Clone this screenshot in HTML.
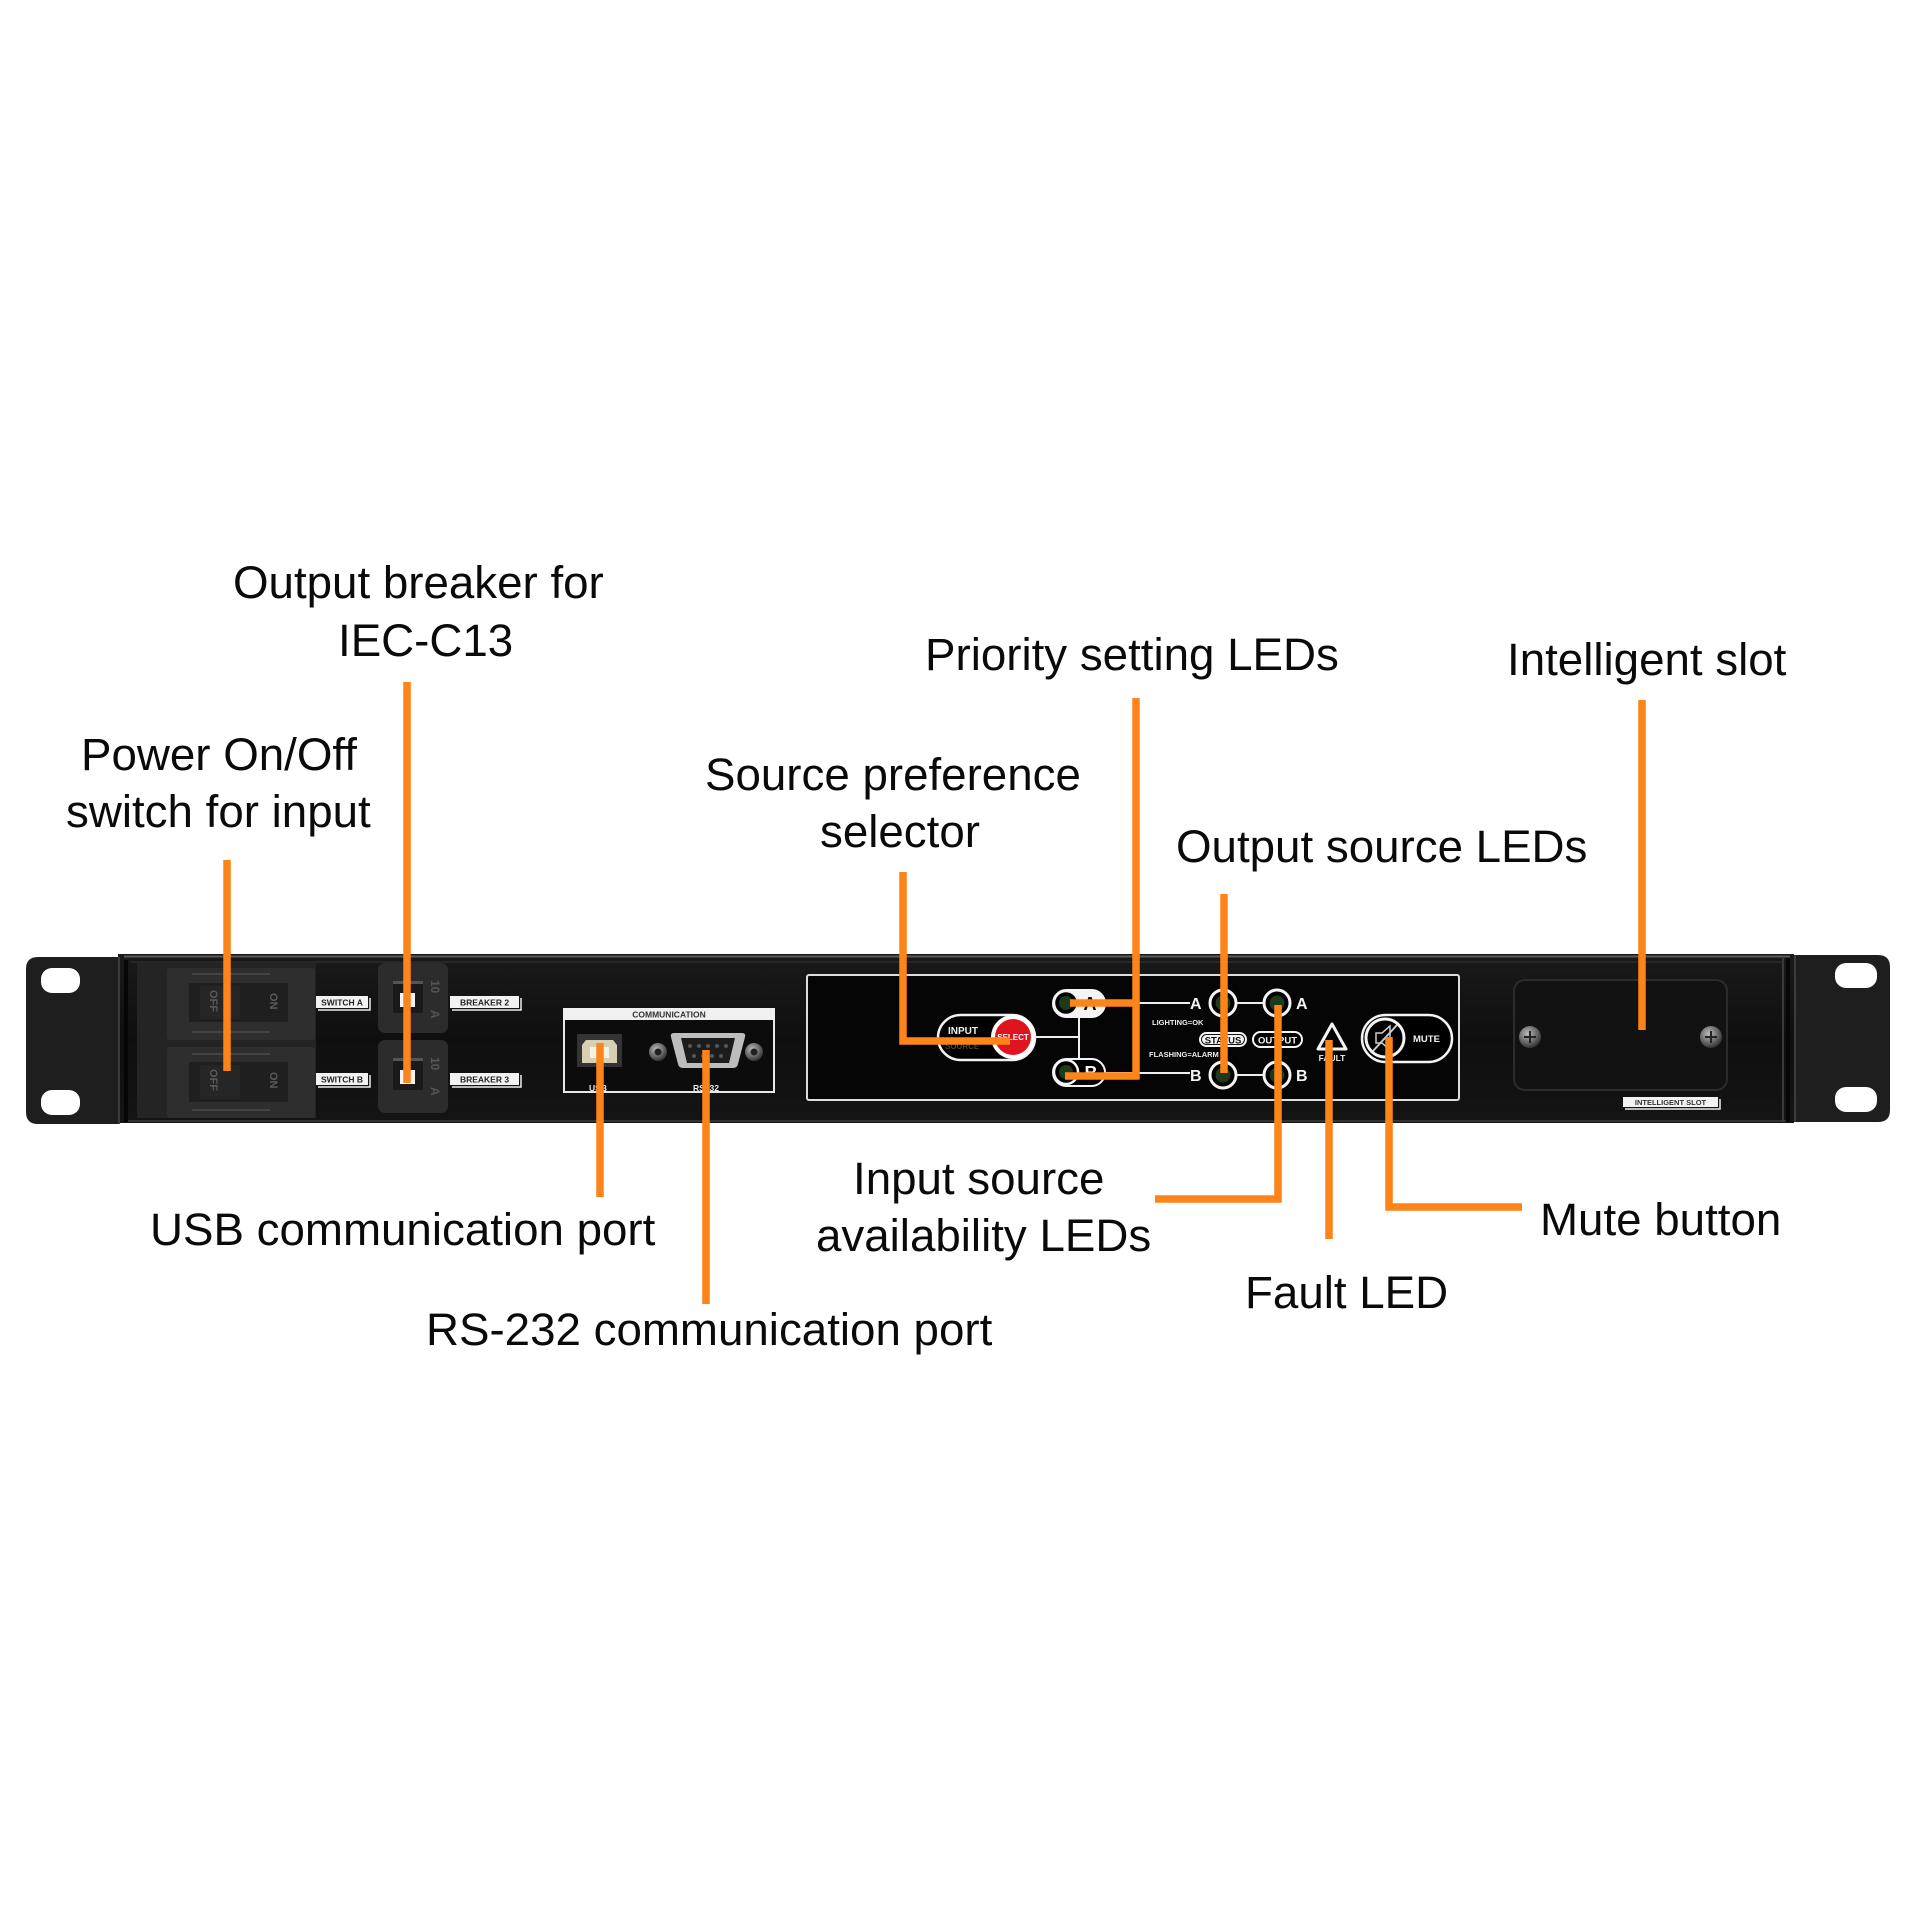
<!DOCTYPE html>
<html><head><meta charset="utf-8"><style>
html,body{margin:0;padding:0;background:#fff;}
svg{display:block}
.lb{font-family:"Liberation Sans",Arial,sans-serif;font-size:45.7px;fill:#0a0a0a;}
.sm{font-family:"Liberation Sans",Arial,sans-serif;font-weight:bold;}
</style></head><body>
<svg width="1920" height="1920" viewBox="0 0 1920 1920" xmlns="http://www.w3.org/2000/svg">
<defs>
<radialGradient id="scr" cx="40%" cy="35%" r="70%">
<stop offset="0" stop-color="#bbb"/><stop offset="0.6" stop-color="#666"/><stop offset="1" stop-color="#2a2a2a"/>
</radialGradient>
<linearGradient id="body" x1="0" y1="0" x2="0" y2="1">
<stop offset="0" stop-color="#1a1a1a"/><stop offset="0.5" stop-color="#0f0f0f"/><stop offset="1" stop-color="#141414"/>
</linearGradient>
</defs>
<rect width="1920" height="1920" fill="#fff"/>

<!-- body -->
<rect x="118" y="954" width="1676" height="169" fill="url(#body)"/>
<line x1="124" y1="956.5" x2="1790" y2="956.5" stroke="#5a5a5a" stroke-width="2"/>
<line x1="130" y1="962" x2="1784" y2="962" stroke="#2c2c2c" stroke-width="1.5"/>
<line x1="124" y1="1121" x2="1790" y2="1121" stroke="#333" stroke-width="2"/>

<!-- left bracket -->
<path d="M38 957 H120 V1124 H38 Q26 1124 26 1112 V969 Q26 957 38 957 Z" fill="#1e1e1e"/>
<line x1="119" y1="957" x2="119" y2="1124" stroke="#3c3c3c" stroke-width="2"/>
<line x1="126" y1="960" x2="126" y2="1122" stroke="#060606" stroke-width="4"/>
<rect x="41" y="968" width="39" height="25" rx="11" fill="#fff"/>
<rect x="41" y="1090" width="39" height="25" rx="11" fill="#fff"/>

<!-- right bracket -->
<path d="M1794 955 H1878 Q1890 955 1890 967 V1110 Q1890 1122 1878 1122 H1794 Z" fill="#1e1e1e"/>
<line x1="1783" y1="958" x2="1783" y2="1122" stroke="#3a3a3a" stroke-width="2"/>
<line x1="1788" y1="958" x2="1788" y2="1122" stroke="#070707" stroke-width="4"/>
<line x1="1795" y1="955" x2="1795" y2="1122" stroke="#3c3c3c" stroke-width="2"/>
<rect x="1835" y="963" width="42" height="25" rx="11" fill="#fff"/>
<rect x="1835" y="1087" width="42" height="25" rx="11" fill="#fff"/>

<!-- switch housing -->
<rect x="137" y="963" width="179" height="155" fill="#242424"/>
<rect x="167" y="968" width="148" height="72" rx="3" fill="#2e2e2e"/>
<rect x="167" y="1047" width="148" height="71" rx="3" fill="#2e2e2e"/>
<line x1="192" y1="974" x2="270" y2="974" stroke="#444" stroke-width="2"/>
<line x1="192" y1="1032" x2="270" y2="1032" stroke="#444" stroke-width="2"/>
<rect x="189" y="983" width="99" height="39" fill="#1f1f1f"/>
<rect x="200" y="986" width="40" height="33" fill="#262626"/>
<line x1="192" y1="1054" x2="270" y2="1054" stroke="#444" stroke-width="2"/>
<line x1="192" y1="1110" x2="270" y2="1110" stroke="#444" stroke-width="2"/>
<rect x="189" y="1062" width="99" height="40" fill="#1f1f1f"/>
<rect x="200" y="1065" width="40" height="34" fill="#262626"/>
<text class="sm" font-size="11" fill="#5a5a5a" transform="translate(210,990) rotate(90)">OFF</text>
<text class="sm" font-size="11" fill="#5a5a5a" transform="translate(270,993) rotate(90)">ON</text>
<text class="sm" font-size="11" fill="#5a5a5a" transform="translate(210,1069) rotate(90)">OFF</text>
<text class="sm" font-size="11" fill="#5a5a5a" transform="translate(270,1072) rotate(90)">ON</text>

<!-- switch labels -->
<polyline points="318,1010 370,1010 370,998" fill="none" stroke="#eee" stroke-width="1.5"/>
<rect x="316" y="996" width="52" height="12" fill="#f2f2f2"/>
<text class="sm" x="342" y="1005.5" font-size="8.5" fill="#222" text-anchor="middle">SWITCH A</text>
<polyline points="318,1087 370,1087 370,1075" fill="none" stroke="#eee" stroke-width="1.5"/>
<rect x="316" y="1073" width="52" height="12" fill="#f2f2f2"/>
<text class="sm" x="342" y="1082.5" font-size="8.5" fill="#222" text-anchor="middle">SWITCH B</text>

<!-- breakers -->
<rect x="378" y="963" width="70" height="70" rx="7" fill="#2c2c2c"/>
<rect x="393" y="983" width="30" height="30" fill="#1a1a1a"/>
<rect x="393" y="981" width="30" height="3" fill="#555"/>
<rect x="400" y="993" width="15" height="14" fill="#f4f4f4"/>
<text class="sm" font-size="12" fill="#555" transform="translate(431,980) rotate(90)">10</text>
<text class="sm" font-size="12" fill="#555" transform="translate(431,1010) rotate(90)">A</text>
<rect x="378" y="1040" width="70" height="73" rx="7" fill="#2c2c2c"/>
<rect x="393" y="1060" width="30" height="30" fill="#1a1a1a"/>
<rect x="393" y="1058" width="30" height="3" fill="#555"/>
<rect x="400" y="1070" width="15" height="14" fill="#f4f4f4"/>
<text class="sm" font-size="12" fill="#555" transform="translate(431,1057) rotate(90)">10</text>
<text class="sm" font-size="12" fill="#555" transform="translate(431,1087) rotate(90)">A</text>

<polyline points="452,1010 521,1010 521,998" fill="none" stroke="#eee" stroke-width="1.5"/>
<rect x="450" y="996" width="69" height="12" fill="#f2f2f2"/>
<text class="sm" x="484.5" y="1005.5" font-size="8.5" fill="#222" text-anchor="middle">BREAKER 2</text>
<polyline points="452,1087 521,1087 521,1075" fill="none" stroke="#eee" stroke-width="1.5"/>
<rect x="450" y="1073" width="69" height="12" fill="#f2f2f2"/>
<text class="sm" x="484.5" y="1082.5" font-size="8.5" fill="#222" text-anchor="middle">BREAKER 3</text>

<!-- communication box -->
<rect x="564" y="1009" width="210" height="83" fill="#0c0c0c" stroke="#e8e8e8" stroke-width="2"/>
<rect x="563" y="1008" width="212" height="12" fill="#f0f0f0"/>
<text class="sm" x="669" y="1017.5" font-size="8.5" fill="#333" text-anchor="middle">COMMUNICATION</text>
<rect x="577" y="1034" width="45" height="33" fill="#333"/>
<path d="M586 1040 H613 L617 1045 V1063 H582 V1045 Z" fill="#d6cfb4"/>
<rect x="590" y="1047" width="19" height="11" fill="#f3f0e4"/>
<text class="sm" x="598" y="1091" font-size="8.5" fill="#eee" text-anchor="middle">USB</text>
<circle cx="658" cy="1052" r="9" fill="url(#scr)"/>
<circle cx="658" cy="1052" r="3.5" fill="#222"/>
<circle cx="754" cy="1052" r="9" fill="url(#scr)"/>
<circle cx="754" cy="1052" r="3.5" fill="#222"/>
<path d="M674 1033 H742 Q746 1033 745 1037 L738 1064 Q737 1068 733 1068 H683 Q679 1068 678 1064 L671 1037 Q670 1033 674 1033 Z" fill="#bdbdbd"/>
<path d="M681 1038 H735 L729 1063 H687 Z" fill="#1c1c1c"/>
<g fill="#555">
<circle cx="690" cy="1046" r="2"/><circle cx="699" cy="1046" r="2"/><circle cx="708" cy="1046" r="2"/><circle cx="717" cy="1046" r="2"/><circle cx="726" cy="1046" r="2"/>
<circle cx="694" cy="1056" r="2"/><circle cx="703" cy="1056" r="2"/><circle cx="712" cy="1056" r="2"/><circle cx="721" cy="1056" r="2"/>
</g>
<text class="sm" x="706" y="1091" font-size="8.5" fill="#eee" text-anchor="middle">RS232</text>

<!-- control panel -->
<rect x="807" y="975" width="652" height="125" rx="2" fill="#050505" stroke="#dcdcdc" stroke-width="2"/>
<!-- input source selector -->
<rect x="938" y="1015" width="97" height="45" rx="22.5" fill="#000" stroke="#f2f2f2" stroke-width="2.5"/>
<text class="sm" x="948" y="1034" font-size="10" fill="#eee">INPUT</text>
<text class="sm" x="945" y="1049" font-size="8" fill="#444">SOURCE</text>
<circle cx="1013" cy="1037" r="22" fill="#fff"/>
<circle cx="1013" cy="1037" r="18" fill="#e0141e"/>
<text class="sm" x="1013" y="1040" font-size="8" fill="#fff" text-anchor="middle">SELECT</text>
<g stroke="#eee" stroke-width="2" fill="none">
<line x1="1035" y1="1037" x2="1079" y2="1037"/>
<line x1="1079" y1="1017" x2="1079" y2="1059"/>
<line x1="1105" y1="1003" x2="1190" y2="1003"/>
<line x1="1105" y1="1073" x2="1190" y2="1073"/>
<line x1="1237" y1="1003" x2="1263" y2="1003"/>
<line x1="1237" y1="1075" x2="1263" y2="1075"/>
</g>
<!-- priority pills -->
<rect x="1053" y="990" width="52" height="27" rx="13.5" fill="#f4f4f4" stroke="#f4f4f4" stroke-width="2"/>
<circle cx="1066" cy="1003" r="12" fill="#000" stroke="#f4f4f4" stroke-width="2.5"/>
<circle cx="1066" cy="1003" r="7" fill="#1d3a1d"/>
<text class="sm" x="1090" y="1010" font-size="18" fill="#000" text-anchor="middle">A</text>
<rect x="1053" y="1059" width="52" height="27" rx="13.5" fill="#000" stroke="#f4f4f4" stroke-width="2"/>
<circle cx="1066" cy="1072" r="12" fill="#000" stroke="#f4f4f4" stroke-width="2.5"/>
<circle cx="1066" cy="1072" r="7" fill="#1d3a1d"/>
<text class="sm" x="1091" y="1079" font-size="18" fill="#f4f4f4" text-anchor="middle">B</text>
<!-- LED rows -->
<text class="sm" x="1190" y="1009" font-size="16" fill="#f4f4f4">A</text>
<text class="sm" x="1190" y="1081" font-size="16" fill="#f4f4f4">B</text>
<text class="sm" x="1296" y="1009" font-size="16" fill="#f4f4f4">A</text>
<text class="sm" x="1296" y="1081" font-size="16" fill="#f4f4f4">B</text>
<g stroke="#f4f4f4" stroke-width="3" fill="#000">
<circle cx="1223" cy="1003" r="13"/><circle cx="1277" cy="1003" r="13"/>
<circle cx="1223" cy="1075" r="13"/><circle cx="1277" cy="1075" r="13"/>
</g>
<g fill="#1d3a1d">
<circle cx="1223" cy="1003" r="7.5"/><circle cx="1277" cy="1003" r="7.5"/>
<circle cx="1223" cy="1075" r="7.5"/><circle cx="1277" cy="1075" r="7.5"/>
</g>
<text class="sm" x="1152" y="1025" font-size="7.5" fill="#eee">LIGHTING=OK</text>
<text class="sm" x="1149" y="1057" font-size="7.5" fill="#eee">FLASHING=ALARM</text>
<rect x="1199" y="1032" width="48" height="15" rx="7.5" fill="#f4f4f4"/>
<rect x="1201.5" y="1034.5" width="43" height="10" rx="5" fill="none" stroke="#111" stroke-width="1"/>
<text class="sm" x="1223" y="1043.5" font-size="9.5" fill="#111" text-anchor="middle">STATUS</text>
<rect x="1253" y="1032" width="49" height="15" rx="7.5" fill="#000" stroke="#f4f4f4" stroke-width="2"/>
<text class="sm" x="1277.5" y="1043.5" font-size="9.5" fill="#f4f4f4" text-anchor="middle">OUTPUT</text>
<!-- fault -->
<polygon points="1332,1024 1318,1049 1346,1049" fill="none" stroke="#f4f4f4" stroke-width="3" stroke-linejoin="round"/>
<text class="sm" x="1332" y="1061" font-size="8.5" fill="#eee" text-anchor="middle">FAULT</text>
<!-- mute -->
<rect x="1362" y="1015" width="90" height="47" rx="23.5" fill="#000" stroke="#f4f4f4" stroke-width="2.5"/>
<circle cx="1385" cy="1038" r="19" fill="#000" stroke="#f4f4f4" stroke-width="3"/>
<path d="M1376 1033 H1382 L1390 1026 V1050 L1382 1043 H1376 Z" fill="none" stroke="#ccc" stroke-width="1.5"/>
<line x1="1373" y1="1051" x2="1397" y2="1025" stroke="#ccc" stroke-width="2"/>
<text class="sm" x="1413" y="1042" font-size="9.5" fill="#f4f4f4">MUTE</text>

<!-- intelligent slot -->
<rect x="1514" y="980" width="213" height="110" rx="11" fill="#121212" stroke="#2c2c2c" stroke-width="2"/>
<circle cx="1530" cy="1037" r="11" fill="url(#scr)"/>
<path d="M1524 1037 H1536 M1530 1031 V1043" stroke="#222" stroke-width="2"/>
<circle cx="1711" cy="1037" r="11" fill="url(#scr)"/>
<path d="M1705 1037 H1717 M1711 1031 V1043" stroke="#222" stroke-width="2"/>
<polyline points="1625,1109 1720,1109 1720,1099" fill="none" stroke="#eee" stroke-width="1.5"/>
<rect x="1623" y="1097" width="95" height="10" fill="#f2f2f2"/>
<text class="sm" x="1670.5" y="1105" font-size="7.5" fill="#333" text-anchor="middle">INTELLIGENT SLOT</text>

<!-- orange callout lines -->
<g stroke="#fd8419" stroke-width="7.5" fill="none" stroke-linejoin="miter" stroke-linecap="butt">
<path d="M227 860 V1071"/>
<path d="M407 682 V1083"/>
<path d="M600 1043 V1197"/>
<path d="M706 1050 V1304"/>
<path d="M903 872 V1041 H1010"/>
<path d="M1136 698 V1079"/>
<path d="M1070 1003 H1139.5"/>
<path d="M1065 1076 H1139.5"/>
<path d="M1224 894 V1073"/>
<path d="M1278 1005 V1199 H1155"/>
<path d="M1329 1040 V1239"/>
<path d="M1389 1037 V1207 H1522"/>
<path d="M1642 700 V1030"/>
</g>

<!-- labels -->
<text class="lb" x="233" y="598">Output breaker for</text>
<text class="lb" x="338" y="656">IEC-C13</text>
<text class="lb" x="81" y="770">Power On/Off</text>
<text class="lb" x="66" y="827">switch for input</text>
<text class="lb" x="705" y="790">Source preference</text>
<text class="lb" x="820" y="847">selector</text>
<text class="lb" x="925" y="670">Priority setting LEDs</text>
<text class="lb" x="1507" y="675">Intelligent slot</text>
<text class="lb" x="1176" y="862">Output source LEDs</text>
<text class="lb" x="150" y="1245">USB communication port</text>
<text class="lb" x="426" y="1345">RS-232 communication port</text>
<text class="lb" x="853" y="1194">Input source</text>
<text class="lb" x="816" y="1251">availability LEDs</text>
<text class="lb" x="1245" y="1308">Fault LED</text>
<text class="lb" x="1540" y="1235">Mute button</text>
</svg>
</body></html>
